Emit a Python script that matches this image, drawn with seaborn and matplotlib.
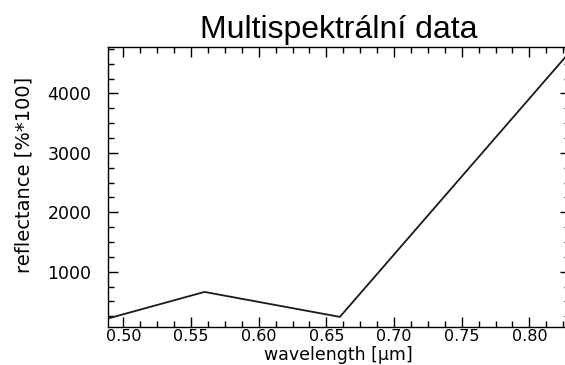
import numpy as np
import pandas as pd
import matplotlib
matplotlib.use("Agg")
import matplotlib.pyplot as plt
import seaborn as sns
from matplotlib.ticker import MultipleLocator, FormatStrFormatter

# spectral bands and reflectance values
wavelength = [0.485, 0.56, 0.66, 0.83]
reflectance = [190, 660, 240, 4700]

df = pd.DataFrame({"wavelength": wavelength, "reflectance": reflectance})

sns.set_style("ticks")
plt.rcParams["font.family"] = ["DejaVu Sans"]
plt.rcParams["text.color"] = "black"
plt.rcParams["axes.labelcolor"] = "black"
plt.rcParams["xtick.color"] = "black"
plt.rcParams["ytick.color"] = "black"

fig = plt.figure(figsize=(5.65, 3.65), dpi=100)
ax = fig.add_axes([108 / 565, 38 / 365, 462 / 565, 280.3 / 365])

sns.lineplot(data=df, x="wavelength", y="reflectance", ax=ax,
             color="#1a1a1a", linewidth=1.3)

ax.set_xlim(0.4887, 0.83)
ax.set_ylim(70, 4785)

ax.xaxis.set_major_locator(MultipleLocator(0.05))
ax.xaxis.set_minor_locator(MultipleLocator(0.0125))
ax.xaxis.set_major_formatter(FormatStrFormatter("%.2f"))
ax.yaxis.set_major_locator(MultipleLocator(1000))
ax.yaxis.set_minor_locator(MultipleLocator(250))

ax.tick_params(which="both", direction="in", top=True, right=True,
               color="black", width=1)
ax.tick_params(which="major", length=7)
ax.tick_params(which="minor", length=4)
ax.tick_params(axis="x", which="major", labelsize=11.5, pad=1.5)
ax.tick_params(axis="y", which="major", labelsize=12.5, pad=12)

for s in ax.spines.values():
    s.set_color("black")
    s.set_linewidth(1)

ax.set_title("Multispektrální data", fontsize=23, family="Liberation Sans",
             color="black", pad=6)

ax.set_xlabel("wavelength [μm]", fontsize=12.5)
ax.xaxis.label.set_va("top")
ax.xaxis.set_label_coords(0.498, -0.068)
ax.set_ylabel("reflectance [%*100]", fontsize=14)
ax.yaxis.label.set_va("center")
ax.yaxis.set_label_coords(-0.182, 0.542)

fig.savefig("out.png", dpi=100)
